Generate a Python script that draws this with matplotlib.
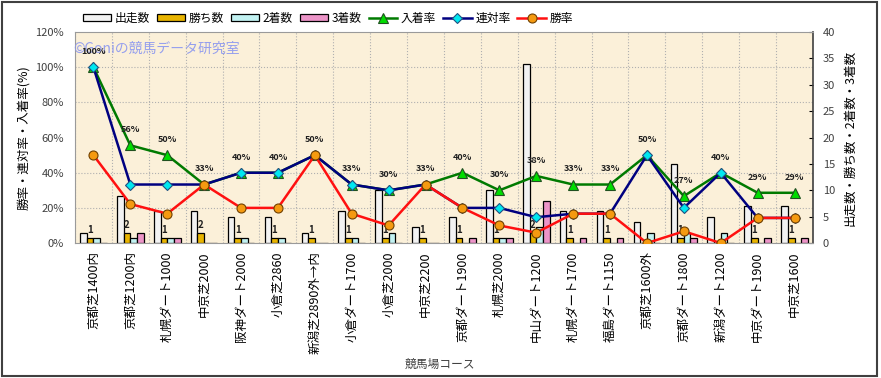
import numpy as np
import matplotlib
matplotlib.use("Agg")
import matplotlib.pyplot as plt
from matplotlib.patches import Rectangle
from matplotlib.ticker import FixedLocator, FuncFormatter

plt.rcParams['font.family'] = ['Noto Sans CJK JP', 'DejaVu Sans']

# course names
courses = ["京都芝1400内", "京都芝1200内", "札幌ダート1000", "中京芝2000", "阪神ダート2000",
           "小倉芝2860", "新潟芝2890外→内", "小倉ダート1700", "小倉芝2000", "中京芝2200",
           "京都ダート1900", "札幌芝2000", "中山ダート1200", "札幌ダート1700", "福島ダート1150",
           "京都芝1600外", "京都ダート1800", "新潟ダート1200", "中京ダート1900", "中京芝1600"]

# counts (right axis)
runs = [2, 9, 6, 6, 5, 5, 2, 6, 10, 3, 5, 10, 34, 6, 6, 4, 15, 5, 7, 7]
wins = [1, 2, 1, 2, 1, 1, 1, 1, 1, 1, 1, 1, 2, 1, 1, 0, 1, 0, 1, 1]
seconds = [1, 1, 1, 0, 1, 1, 0, 1, 2, 0, 0, 1, 3, 0, 0, 2, 2, 2, 0, 0]
thirds = [0, 2, 1, 0, 0, 0, 0, 0, 0, 0, 1, 1, 8, 1, 1, 0, 1, 0, 1, 1]

# rates in % (left axis)
place_rate = [100, 55.6, 50, 33.3, 40, 40, 50, 33.3, 30, 33.3,
              40, 30, 38.2, 33.3, 33.3, 50, 26.7, 40, 28.6, 28.6]
quinella_rate = [100, 33.3, 33.3, 33.3, 40, 40, 50, 33.3, 30, 33.3,
                 20, 20, 14.7, 16.7, 16.7, 50, 20, 40, 14.3, 14.3]
win_rate = [50, 22.2, 16.7, 33.3, 20, 20, 50, 16.7, 10, 33.3,
            20, 10, 5.9, 16.7, 16.7, 0, 6.7, 0, 14.3, 14.3]

fig = plt.figure(figsize=(8.81, 3.78), dpi=100)
ax = fig.add_axes([0.0851, 0.357, 0.8377, 0.558])   # counts axis (right side)
ax.set_facecolor('#fbf0d9')

x = np.arange(len(courses))
w = 0.18
bar_kw = dict(width=w, edgecolor='black', linewidth=0.9, zorder=2)
ax.bar(x - 1.5 * w, runs, color='#f2f2f2', label='出走数', **bar_kw)
ax.bar(x - 0.5 * w, wins, color='#e8b400', label='勝ち数', **bar_kw)
ax.bar(x + 0.5 * w, seconds, color='#c2f2f2', label='2着数', **bar_kw)
ax.bar(x + 1.5 * w, thirds, color='#ec94c8', label='3着数', **bar_kw)

for i, v in enumerate(wins):
    if v > 0:
        ax.annotate(str(v), (x[i] - 0.5 * w, v), xytext=(0, 2), textcoords='offset points',
                    ha='center', va='bottom', fontsize=7, fontweight='bold', color='#202020')

ax.set_xlim(-0.5, len(courses) - 0.5)
ax.set_ylim(0, 40)

ax.set_xticks(x)
ax.set_xticklabels(courses, rotation=90, fontsize=9)
ax.tick_params(axis='x', length=0, pad=6)
ax.set_xlabel('競馬場コース', fontsize=8.5, color='#404040')
ax.xaxis.set_label_coords(0.495, -0.545)

# grid: horizontal at the % ticks, vertical at course boundaries
ax.yaxis.set_minor_locator(FixedLocator(np.linspace(0, 40, 7)))
ax.xaxis.set_minor_locator(FixedLocator(np.arange(-0.5, len(courses), 1)))
ax.grid(which='minor', linestyle=':', color='#b0b0b0', linewidth=0.8)
ax.set_axisbelow(True)

for s in ['top', 'left', 'bottom']:
    ax.spines[s].set_color('#9a9a9a')
ax.spines['right'].set_color('#404040')
ax.spines['right'].set_linewidth(1.2)

# rate axis (left side)
ax2 = ax.twinx()
ax2.yaxis.tick_left()
ax2.yaxis.set_label_position('left')
ax2.set_ylim(0, 120)
ax2.set_yticks(np.arange(0, 121, 20))
ax2.yaxis.set_major_formatter(FuncFormatter(lambda v, p: f'{v:.0f}%'))
ax2.tick_params(axis='y', length=0, labelsize=8, labelcolor='#404040', pad=8)
ax2.set_ylabel('勝率・連対率・入着率(%)', fontsize=9, labelpad=4)
for s in ax2.spines.values():
    s.set_visible(False)

# twinx moves the first axis ticks to the left, put them back on the right
ax.yaxis.tick_right()
ax.yaxis.set_label_position('right')
ax.set_yticks(np.arange(0, 41, 5))
ax.set_ylabel('出走数・勝ち数・2着数・3着数', fontsize=9, labelpad=6)
ax.tick_params(axis='y', which='major', direction='in', length=3, labelsize=8,
               labelcolor='#404040', pad=7, left=False, labelleft=False,
               right=True, labelright=True)
ax.tick_params(which='minor', length=0, left=False, right=False)

ax2.plot(x, place_rate, color='#007a00', lw=1.8, marker='^', ms=7,
         mfc='#00dd00', mec='#205020', mew=0.8, label='入着率', zorder=3)
ax2.plot(x, quinella_rate, color='#000080', lw=1.8, marker='D', ms=5,
         mfc='#00e8f0', mec='#205080', mew=0.8, label='連対率', zorder=4)
ax2.plot(x, win_rate, color='#ff1010', lw=1.8, marker='o', ms=6.5,
         mfc='#f59a10', mec='#704000', mew=0.8, label='勝率', zorder=5)

for i, v in enumerate(place_rate):
    ax2.annotate(f'{v:.0f}%', (x[i], v), xytext=(0, 8), textcoords='offset points',
                 ha='center', va='bottom', fontsize=6.5, fontweight='bold', color='#202020')

ax2.text(-0.55, 110.5, '©Goniの競馬データ研究室', fontsize=10, color='#8a96f0',
         alpha=0.9, va='center', ha='left', zorder=1)

h1, l1 = ax.get_legend_handles_labels()
h2, l2 = ax2.get_legend_handles_labels()
fig.legend(h1 + h2, l1 + l2, ncol=7, loc='center', bbox_to_anchor=(0.372, 0.952),
           frameon=False, fontsize=8.5, handlelength=2.4, handleheight=0.5,
           columnspacing=0.6, handletextpad=0.3)

fig.patches.append(Rectangle((0.002, 0.004), 0.994, 0.992, transform=fig.transFigure,
                             fill=False, edgecolor='#404040', linewidth=1.5))

fig.savefig('out.png', dpi=100)
